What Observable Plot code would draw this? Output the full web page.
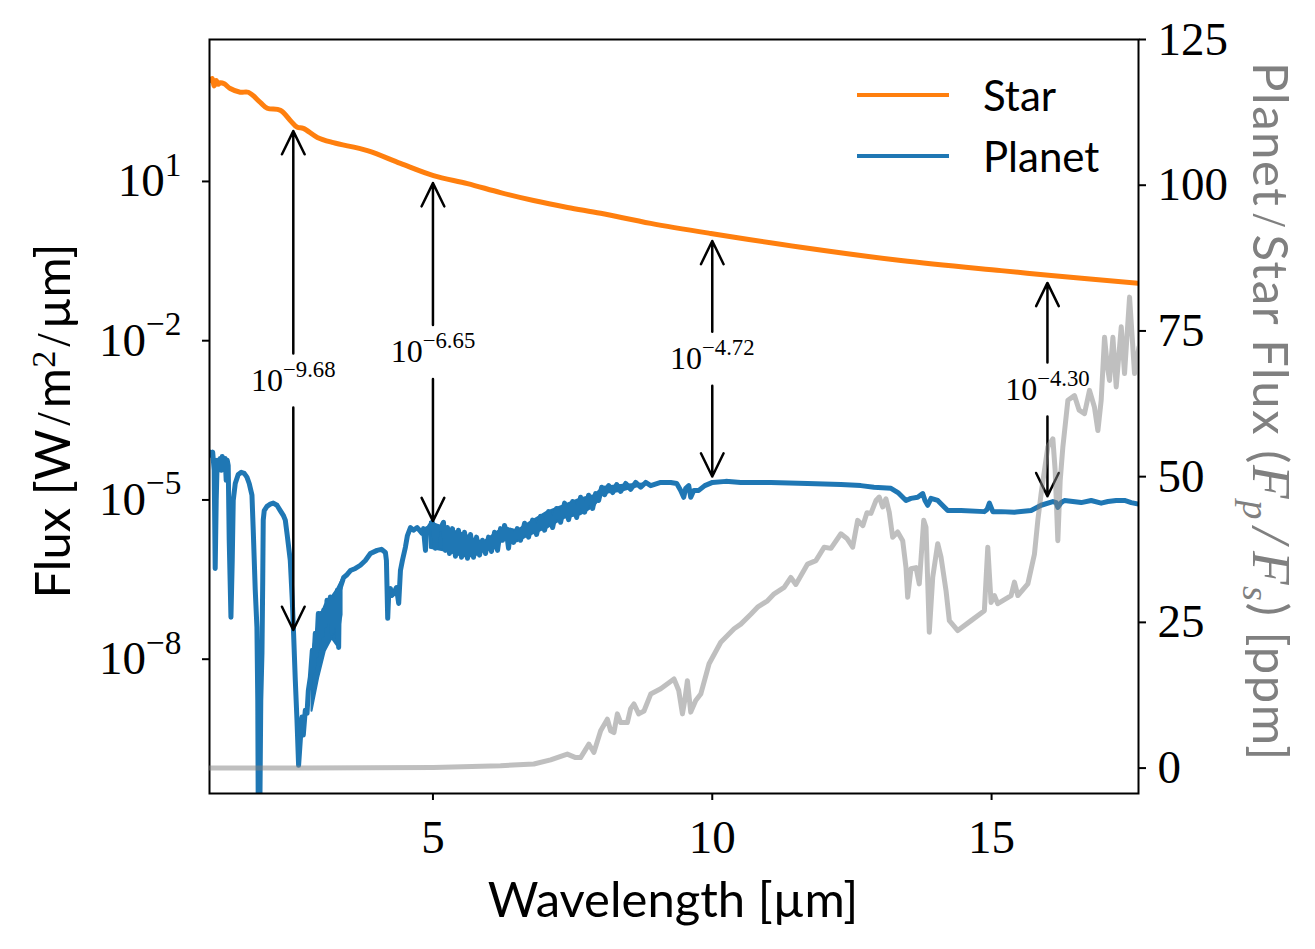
<!DOCTYPE html>
<html>
<head>
<meta charset="utf-8">
<script src="https://cdn.jsdelivr.net/npm/d3@7"></script>
<script src="https://cdn.jsdelivr.net/npm/@observablehq/plot@0.6"></script>
<style>
  body { margin: 0; background: #fff; }
  #fig { position: relative; width: 1315px; height: 949px; overflow: hidden; background: #fff; }
  #fig svg { position: absolute; left: 0; top: 0; }
  .lbl { position: absolute; white-space: nowrap; font-family: Lato, "Open Sans", sans-serif; color: #000; line-height: 1; }
  .serif { font-family: "Liberation Serif", "DejaVu Serif", serif; }
  .sl { font-family: "Liberation Serif", serif; margin: 0 0.08em; }
  .legline { position: absolute; height: 0; width: 92px; border-top: 4.5px solid; }
</style>
</head>
<body>
<div id="fig"></div>
<script>
// ---------------- data ----------------
const starWavelength = [1.0, 1.048, 1.084, 1.12, 1.156, 1.192, 1.264, 1.371, 1.55, 1.694, 1.909, 2.034, 2.267, 2.446, 2.572, 2.679, 2.93, 3.217, 3.826, 4.418, 5.009, 5.618, 6.21, 6.801, 7.41, 8.002, 8.898, 9.973, 11.586, 13.378, 15.17, 16.066, 17.643];
const starLogFlux = [2.90, 2.94, 2.80, 2.90, 2.83, 2.86, 2.84, 2.75, 2.68, 2.68, 2.49, 2.38, 2.34, 2.15, 2.02, 2.00, 1.83, 1.73, 1.58, 1.34, 1.11, 0.96, 0.79, 0.64, 0.51, 0.40, 0.21, 0.02, -0.24, -0.49, -0.68, -0.77, -0.92];

const planetWavelength = [
  1.00,1.03,1.057,1.084,1.102,1.12,1.138,1.174,1.192,1.21,1.228,1.246,1.281,1.299,1.317,1.335,1.353,1.384,1.407,1.425,
  1.461,1.514,1.568,1.622,1.67,1.711,1.76,1.783,1.819,1.849,1.864,1.873,1.9,1.918,1.939,1.953,1.962,1.98,2.029,2.088,
  2.142,2.208,2.267,2.321,2.357,2.392,2.446,2.482,2.505,2.536,2.566,2.595,2.625,2.656,2.679,2.715,2.746,2.769,2.805,2.841,
  2.858,2.894,2.912,2.948,2.966,2.984,3.011,3.043,3.073,3.104,3.127,3.163,3.194,3.217,3.253,3.271,3.289,3.312,3.324,3.342,
  3.401,3.45,3.522,3.611,3.701,3.79,3.88,4.0,4.077,4.149,4.167,4.19,4.211,4.238,4.265,4.297,4.346,4.387,4.418,4.453,
  4.507,4.543,4.597,4.651,4.717,4.758,4.806,4.83,4.866,4.892,4.925,4.986,5.009,5.045,5.081,5.134,
  5.188,5.224,5.26,5.296,5.349,5.403,5.457,5.511,5.565,5.618,5.672,5.726,5.78,5.833,5.887,5.941,5.995,6.048,6.102,6.156,
  6.21,6.245,6.281,6.317,6.353,6.389,6.443,6.509,6.568,6.64,6.711,6.783,6.855,6.927,6.998,7.07,7.142,7.213,7.285,7.357,
  7.428,7.5,7.572,7.643,7.715,7.787,7.858,7.912,7.966,8.02,8.073,8.145,8.217,8.289,8.36,8.45,8.539,8.629,8.719,8.808,
  8.898,9.077,9.256,9.364,9.435,9.489,9.525,9.579,9.615,9.668,9.758,9.866,10.004,10.242,10.511,11.048,11.706,12.303,12.661,12.894,
  13.199,13.324,13.468,13.557,13.677,13.767,13.808,13.857,13.916,14.036,14.215,14.453,14.871,14.919,14.961,15.022,15.17,15.409,15.708,15.887,
  16.097,16.156,16.186,16.246,16.305,16.604,16.783,16.962,17.082,17.231,17.38,17.5,17.638
];
const planetLogFlux = [
  -4.10,-4.16,-4.10,-4.44,-6.29,-5.01,-4.25,-4.35,-4.22,-4.44,-4.18,-4.29,-4.22,-4.63,-4.25,-4.35,-5.76,-7.21,-6.14,-5.01,
  -4.69,-4.52,-4.48,-4.50,-4.57,-4.69,-4.91,-5.57,-6.70,-7.40,-8.77,-11,-11,-8.77,-7.89,-6.51,-5.38,-5.20,-5.12,-5.08,
  -5.06,-5.10,-5.20,-5.29,-5.38,-5.67,-6.14,-6.89,-7.51,-8.40,-9.15,-10.00,-9.53,-9.09,-9.43,-8.96,-9.02,-8.59,-8.34,-7.83,
  -8.21,-7.51,-7.93,-7.14,-7.64,-7.14,-7.55,-7.08,-7.36,-6.89,-7.27,-6.83,-7.51,-6.89,-6.99,-7.36,-6.70,-7.78,-6.70,-6.65,
  -6.46,-6.42,-6.33,-6.29,-6.23,-6.14,-6.01,-5.95,-5.93,-5.99,-6.14,-7.23,-6.70,-6.67,-6.80,-6.76,-6.65,-6.95,-6.33,-6.14,
  -5.89,-5.67,-5.52,-5.57,-5.52,-5.57,-5.63,-5.54,-5.95,-5.54,-5.52,-5.42,-5.48,-5.91,-5.50,-5.54,
  -5.42,-5.95,-5.52,-6.01,-5.54,-6.06,-5.57,-6.08,-5.61,-6.10,-5.65,-6.08,-5.70,-6.04,-5.76,-6.01,-5.70,-5.97,-5.61,-5.95,
  -5.54,-5.76,-5.48,-5.61,-5.91,-5.57,-5.80,-5.54,-5.76,-5.44,-5.70,-5.38,-5.65,-5.31,-5.57,-5.22,-5.52,-5.16,-5.42,-5.06,
  -5.37,-5.03,-5.33,-4.95,-5.23,-4.91,-5.16,-4.88,-5.01,-4.76,-4.90,-4.73,-4.86,-4.71,-4.84,-4.69,-4.80,-4.67,-4.76,-4.67,
  -4.73,-4.67,-4.67,-4.69,-4.82,-4.95,-4.78,-4.73,-4.95,-4.82,-4.82,-4.73,-4.67,-4.65,-4.67,-4.67,-4.69,-4.71,-4.73,-4.76,
  -4.78,-4.86,-5.01,-4.97,-4.95,-4.88,-5.01,-5.10,-4.97,-5.01,-5.20,-5.20,-5.22,-5.18,-5.06,-5.22,-5.22,-5.23,-5.20,-5.10,
  -5.03,-5.05,-5.14,-5.05,-5.01,-5.05,-5.01,-5.06,-5.03,-5.01,-5.01,-5.05,-5.08
];

// envelopes of the dense noise in the planet spectrum (2.8–3.4 µm and 5–9 µm)
const planetBandAWavelength = [2.835, 2.953, 3.073, 3.194, 3.283, 3.373];
const planetBandAHighLog = [-7.93, -7.30, -6.98, -6.83, -6.70, -6.51];
const planetBandALowLog = [-8.98, -8.36, -7.85, -7.61, -7.74, -7.17];
const planetBandBWavelength = [4.955, 5.254, 5.552, 5.731, 5.910, 6.151, 6.269, 6.509, 6.747, 7.047, 7.344, 7.643, 7.882, 8.061, 8.360, 8.778];
const planetBandBHighLog = [-5.42, -5.55, -5.64, -5.74, -5.80, -5.61, -5.52, -5.58, -5.42, -5.23, -5.11, -4.98, -4.92, -4.76, -4.73, -4.70];
const planetBandBLowLog = [-5.91, -5.97, -6.07, -6.07, -5.97, -5.91, -5.66, -5.79, -5.66, -5.53, -5.35, -5.28, -5.13, -4.88, -4.84, -4.72];

const ratioWavelength = [1.0, 2.625, 5.009, 6.21, 6.806, 7.106, 7.405, 7.554, 7.643, 7.792, 7.882, 8.002, 8.122, 8.181, 8.24, 8.301, 8.36, 8.48, 8.539, 8.599,
  8.683, 8.778, 8.898, 9.077, 9.315, 9.4, 9.466, 9.507, 9.555, 9.615, 9.704, 9.794, 9.943, 10.152, 10.391, 10.511, 10.69, 10.81, 10.989, 11.108,
  11.287, 11.407, 11.496, 11.706, 11.855, 12.004, 12.124, 12.303, 12.41, 12.513, 12.602, 12.697, 12.769, 12.841, 12.93, 12.989, 13.05, 13.109, 13.168, 13.229,
  13.319, 13.409, 13.468, 13.498, 13.557, 13.647, 13.706, 13.785, 13.826, 13.885, 13.946, 14.036, 14.095, 14.185, 14.244, 14.395, 14.633, 14.871, 14.932, 14.991,
  15.05, 15.111, 15.349, 15.409, 15.47, 15.649, 15.767, 15.828, 15.887, 16.007, 16.097, 16.138, 16.186, 16.228, 16.276, 16.366, 16.484, 16.568, 16.663, 16.753,
  16.842, 16.903, 16.962, 17.022, 17.07, 17.111, 17.172, 17.231, 17.321, 17.38, 17.47, 17.559, 17.638];
const ratioPpm = [0, 0, 0.1, 0.4, 0.7, 1.4, 2.4, 1.8, 1.8, 4.1, 2.7, 6.4, 8.4, 6.4, 6.1, 9.3, 7.8, 7.8, 10.2, 11.0,
  9.3, 9.8, 12.7, 13.6, 15.3, 13.3, 9.3, 11.6, 15.0, 9.6, 11.6, 12.7, 17.9, 21.6, 23.9, 24.7, 26.4, 27.6, 28.7, 29.9,
  31.0, 32.7, 31.5, 35.0, 35.6, 37.9, 37.7, 40.2, 39.4, 37.9, 42.5, 41.6, 43.8, 43.7, 45.9, 46.5, 44.8, 46.2, 43.9, 39.6,
  40.5, 39.0, 34.4, 29.3, 34.2, 34.4, 31.6, 42.5, 41.3, 23.3, 32.7, 38.5, 36.2, 30.4, 25.3, 23.6, 25.3, 27.0, 37.9, 28.4,
  29.6, 28.2, 29.6, 31.9, 29.6, 31.6, 36.7, 42.5, 47.1, 55.1, 56.5, 51.1, 39.0, 49.3, 55.1, 63.1, 63.9, 61.4, 60.8, 64.8,
  61.9, 57.9, 63.1, 73.9, 69.1, 66.5, 73.9, 65.4, 75.7, 67.7, 80.8, 67.7, 72.2];

const annoWavelength = [2.5, 5, 10, 16];
const annoStarLog = [2.09, 1.11, 0.02, -0.77];
const annoPlanetLog = [-7.59, -5.54, -4.70, -5.07];
const annoLabel = ["\u22129.68", "\u22126.65", "\u22124.72", "\u22124.30"];

const xTicks = [5, 10, 15];
const fluxTickExponents = [1, -2, -5, -8];
const ratioTicks = [0, 25, 50, 75, 100, 125];

// ---------------- tables ----------------
const star = starWavelength.map((w, i) => ({w, f: 10 ** starLogFlux[i]}));
const nP = Math.min(planetWavelength.length, planetLogFlux.length);
const planet = planetWavelength.slice(0, nP).map((w, i) => ({w, f: 10 ** planetLogFlux[i]}));
const band = (ws, hi, lo, g) => ws.map((w, i) => ({w, hi: 10 ** hi[i], lo: 10 ** lo[i], g}));
const planetBands = [
  ...band(planetBandAWavelength, planetBandAHighLog, planetBandALowLog, "a"),
  ...band(planetBandBWavelength, planetBandBHighLog, planetBandBLowLog, "b")
];
const nR = Math.min(ratioWavelength.length, ratioPpm.length);
const ratio = ratioWavelength.slice(0, nR).map((w, i) => ({w, r: ratioPpm[i]}));
const anno = annoWavelength.map((w, i) => ({
  w,
  star: 10 ** annoStarLog[i],
  planet: 10 ** annoPlanetLog[i],
  mid: 10 ** ((annoStarLog[i] + annoPlanetLog[i]) / 2),
  label: annoLabel[i]
}));

// ---------------- layout ----------------
const W = 1315, H = 949;
const M = {marginLeft: 209, marginRight: 177, marginTop: 39, marginBottom: 156};
const xDomain = [1.0, 17.63];
const serif = "'Liberation Serif', 'DejaVu Serif', serif";
const svgStyle = {fontFamily: serif, background: "transparent", overflow: "visible"};
const tickFont = 47;
const lineW = 5;

const fmtExp = e => "10^" + (e < 0 ? "\u2212" + (-e) : String(e));
const arrowOpts = {stroke: "black", strokeWidth: 2.5, headLength: 15.5, headAngle: 52, insetStart: 27, insetEnd: 7.5};

const p1 = Plot.plot({
  width: W, height: H, ...M,
  style: svgStyle,
  x: {domain: xDomain},
  y: {type: "log", domain: [10 ** -10.53, 10 ** 3.674]},
  marks: [
    Plot.line(star, {x: "w", y: "f", stroke: "#ff7f0e", strokeWidth: lineW, curve: "catmull-rom", clip: true}),
    Plot.areaY(planetBands, {x: "w", y1: "lo", y2: "hi", z: "g", fill: "#1f77b4", stroke: "#1f77b4", strokeWidth: 2, clip: true}),
    Plot.line(planet, {x: "w", y: "f", stroke: "#1f77b4", strokeWidth: lineW, clip: true}),
    Plot.arrow(anno, {x1: "w", x2: "w", y1: "mid", y2: "star", ...arrowOpts}),
    Plot.arrow(anno, {x1: "w", x2: "w", y1: "mid", y2: "planet", ...arrowOpts}),
    Plot.text(anno, {x: "w", y: "mid", text: d => "10^" + d.label, fontSize: 32, fill: "black"}),
    Plot.axisX({ticks: xTicks, tickSize: 7, tickPadding: 19, fontSize: tickFont, label: null, strokeWidth: 2, tickFormat: d => String(d)}),
    Plot.axisY({ticks: fluxTickExponents.map(e => 10 ** e), tickSize: 7, tickPadding: 21, fontSize: tickFont, label: null, strokeWidth: 2,
      tickFormat: d => fmtExp(Math.round(Math.log10(d)))}),
    Plot.frame({stroke: "black", strokeWidth: 2})
  ]
});

const p2 = Plot.plot({
  width: W, height: H, ...M,
  style: {...svgStyle, pointerEvents: "none"},
  x: {domain: xDomain, axis: null},
  y: {domain: [-4.36, 125]},
  marks: [
    Plot.line(ratio, {x: "w", y: "r", stroke: "#808080", strokeOpacity: 0.5, strokeWidth: lineW, clip: true}),
    Plot.axisY({anchor: "right", ticks: ratioTicks, tickSize: 7, tickPadding: 12, fontSize: tickFont, label: null, strokeWidth: 2})
  ]
});

// superscripts as real tspans
function superscriptify(svg) {
  const ns = "http://www.w3.org/2000/svg";
  svg.querySelectorAll("text").forEach(t => {
    const s = t.textContent;
    const i = s.indexOf("^");
    if (i < 0) return;
    while (t.firstChild) t.removeChild(t.firstChild);
    const a = document.createElementNS(ns, "tspan");
    a.textContent = s.slice(0, i);
    const b = document.createElementNS(ns, "tspan");
    b.textContent = s.slice(i + 1);
    b.setAttribute("font-size", "71%");
    b.setAttribute("dy", "-0.62em");
    t.appendChild(a);
    t.appendChild(b);
  });
}
superscriptify(p1);

const fig = document.getElementById("fig");
fig.appendChild(p1);
fig.appendChild(p2);

// axis titles and legend
function addLabel(html, css) {
  const d = document.createElement("div");
  d.className = "lbl";
  d.innerHTML = html;
  d.setAttribute("style", css);
  fig.appendChild(d);
  return d;
}
addLabel("Wavelength [µm]", "left:673px;top:898px;font-size:49px;transform:translate(-50%,-50%);");
addLabel("Flux [W<span class='sl'>/</span>m<span class='serif' style='position:relative;top:-0.45em;font-size:0.7em'>2</span><span class='sl'>/</span>µm]",
  "left:52px;top:421px;font-size:49px;transform:translate(-50%,-50%) rotate(-90deg);");
addLabel("Planet<span class='sl' style='margin:0 0.12em'>/</span>Star Flux (<span class='serif' style='font-style:italic;font-size:1.12em'>F<span style='position:relative;top:0.25em;font-size:0.7em'>p</span><span style='margin:0 0.12em'>/</span>F<span style='position:relative;top:0.25em;font-size:0.7em'>s</span></span>) [ppm]",
  "left:1271px;top:412px;font-size:49px;letter-spacing:1.6px;color:#808080;transform:translate(-50%,-50%) rotate(90deg);");

const legendItems = [{name: "Star", color: "#ff7f0e", y: 95}, {name: "Planet", color: "#1f77b4", y: 156}];
legendItems.forEach(it => {
  const ln = document.createElement("div");
  ln.className = "legline";
  ln.setAttribute("style", `left:857px;top:${it.y - 2}px;border-color:${it.color};`);
  fig.appendChild(ln);
  addLabel(it.name, `left:983px;top:${it.y}px;font-size:42px;transform:translateY(-50%);`);
});
</script>
</body>
</html>
